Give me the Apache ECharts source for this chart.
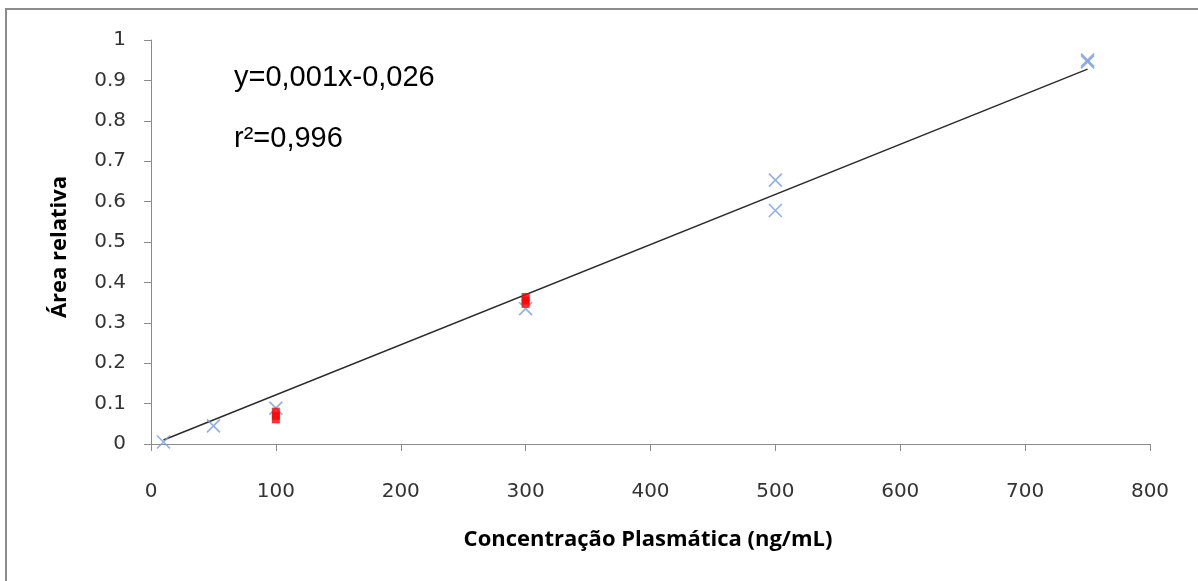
<!DOCTYPE html>
<html>
<head>
<meta charset="utf-8">
<title>Curva de calibração</title>
<script src="https://cdn.jsdelivr.net/npm/echarts@6/dist/echarts.min.js"></script>
<style>
  html, body { margin: 0; padding: 0; background: #fff; }
  #chart { width: 1198px; height: 581px; }
</style>
</head>
<body>
<div id="chart"></div>
<script>
// Calibration standards (blue crosses)
const padraoX = [10, 50, 100, 300, 500, 500, 750, 750];
const padraoY = [0.005, 0.045, 0.089, 0.335, 0.653, 0.578, 0.950, 0.946];

// Control samples (red squares)
const controleX = [100, 100, 100, 300, 300, 300];
const controleY = [0.061, 0.070, 0.080, 0.347, 0.355, 0.364];

// Linear trend line end points
const retaX = [10, 750];
const retaY = [0.010, 0.928];

// Axis ticks
const xTicks = [0, 100, 200, 300, 400, 500, 600, 700, 800];
const yTicks = [0, 0.1, 0.2, 0.3, 0.4, 0.5, 0.6, 0.7, 0.8, 0.9, 1];

const equacao = 'y=0,001x-0,026';
const coefR2 = 'r²=0,996';
const tituloX = 'Concentração Plasmática (ng/mL)';
const tituloY = 'Área relativa';

const pares = (xs, ys) => xs.map((x, i) => [x, ys[i]]);

const chart = echarts.init(document.getElementById('chart'), null, { renderer: 'canvas' });

const axisGray = '#8a8a8a';
const tickFont = { fontFamily: 'DejaVu Sans', fontSize: 20, color: '#333333' };

chart.setOption({
  backgroundColor: '#ffffff',
  animation: false,
  grid: { left: 151, right: 48, top: 40, bottom: 137, containLabel: false },
  xAxis: {
    type: 'value',
    min: xTicks[0],
    max: xTicks[xTicks.length - 1],
    interval: xTicks[1] - xTicks[0],
    splitLine: { show: false },
    axisLine: { show: true, onZero: false, lineStyle: { color: axisGray, width: 1 } },
    axisTick: { show: true, inside: false, length: 7, lineStyle: { color: axisGray } },
    axisLabel: Object.assign({ margin: 38 }, tickFont)
  },
  yAxis: {
    type: 'value',
    min: yTicks[0],
    max: yTicks[yTicks.length - 1],
    interval: 0.1,
    splitLine: { show: false },
    axisLine: { show: true, onZero: false, lineStyle: { color: axisGray, width: 1 } },
    axisTick: { show: true, inside: false, length: 7, lineStyle: { color: axisGray } },
    axisLabel: Object.assign({
      margin: 25,
      formatter: v => String(Math.round(v * 10) / 10)
    }, tickFont)
  },
  series: [
    {
      name: 'Regressão',
      type: 'line',
      data: pares(retaX, retaY),
      symbol: 'none',
      lineStyle: { color: '#2b2b2b', width: 1.5 },
      z: 2
    },
    {
      name: 'Padrões',
      type: 'scatter',
      data: pares(padraoX, padraoY),
      symbol: 'path://M0,0L10,10M10,0L0,10',
      symbolSize: 13,
      itemStyle: { color: 'rgba(0,0,0,0)', borderColor: '#7b9fd6', borderWidth: 1.7 },
      z: 3
    },
    {
      name: 'Controles',
      type: 'scatter',
      data: pares(controleX, controleY),
      symbol: 'rect',
      symbolSize: [8, 8],
      itemStyle: { color: '#ff0000' },
      z: 4
    }
  ],
  graphic: [
    {
      type: 'rect',
      shape: { x: 6, y: 9, width: 1200, height: 600 },
      style: { fill: 'none', stroke: '#8c8c8c', lineWidth: 2 },
      z: -1
    },
    {
      type: 'text',
      left: 234, top: 63,
      style: { text: equacao, font: '29px "Liberation Sans", Arial, sans-serif', fill: '#000' }
    },
    {
      type: 'text',
      left: 234, top: 124,
      style: { text: coefR2, font: '29px "Liberation Sans", Arial, sans-serif', fill: '#000' }
    },
    {
      type: 'text',
      x: 648, y: 540,
      style: {
        text: tituloX, font: 'bold 22px "Open Sans", sans-serif', fill: '#000',
        align: 'center', verticalAlign: 'middle'
      }
    },
    {
      type: 'text',
      x: 60, y: 247,
      rotation: Math.PI / 2,
      style: {
        text: tituloY, font: 'bold 22px "Open Sans", sans-serif', fill: '#000',
        align: 'center', verticalAlign: 'middle'
      }
    }
  ]
});
</script>
</body>
</html>
